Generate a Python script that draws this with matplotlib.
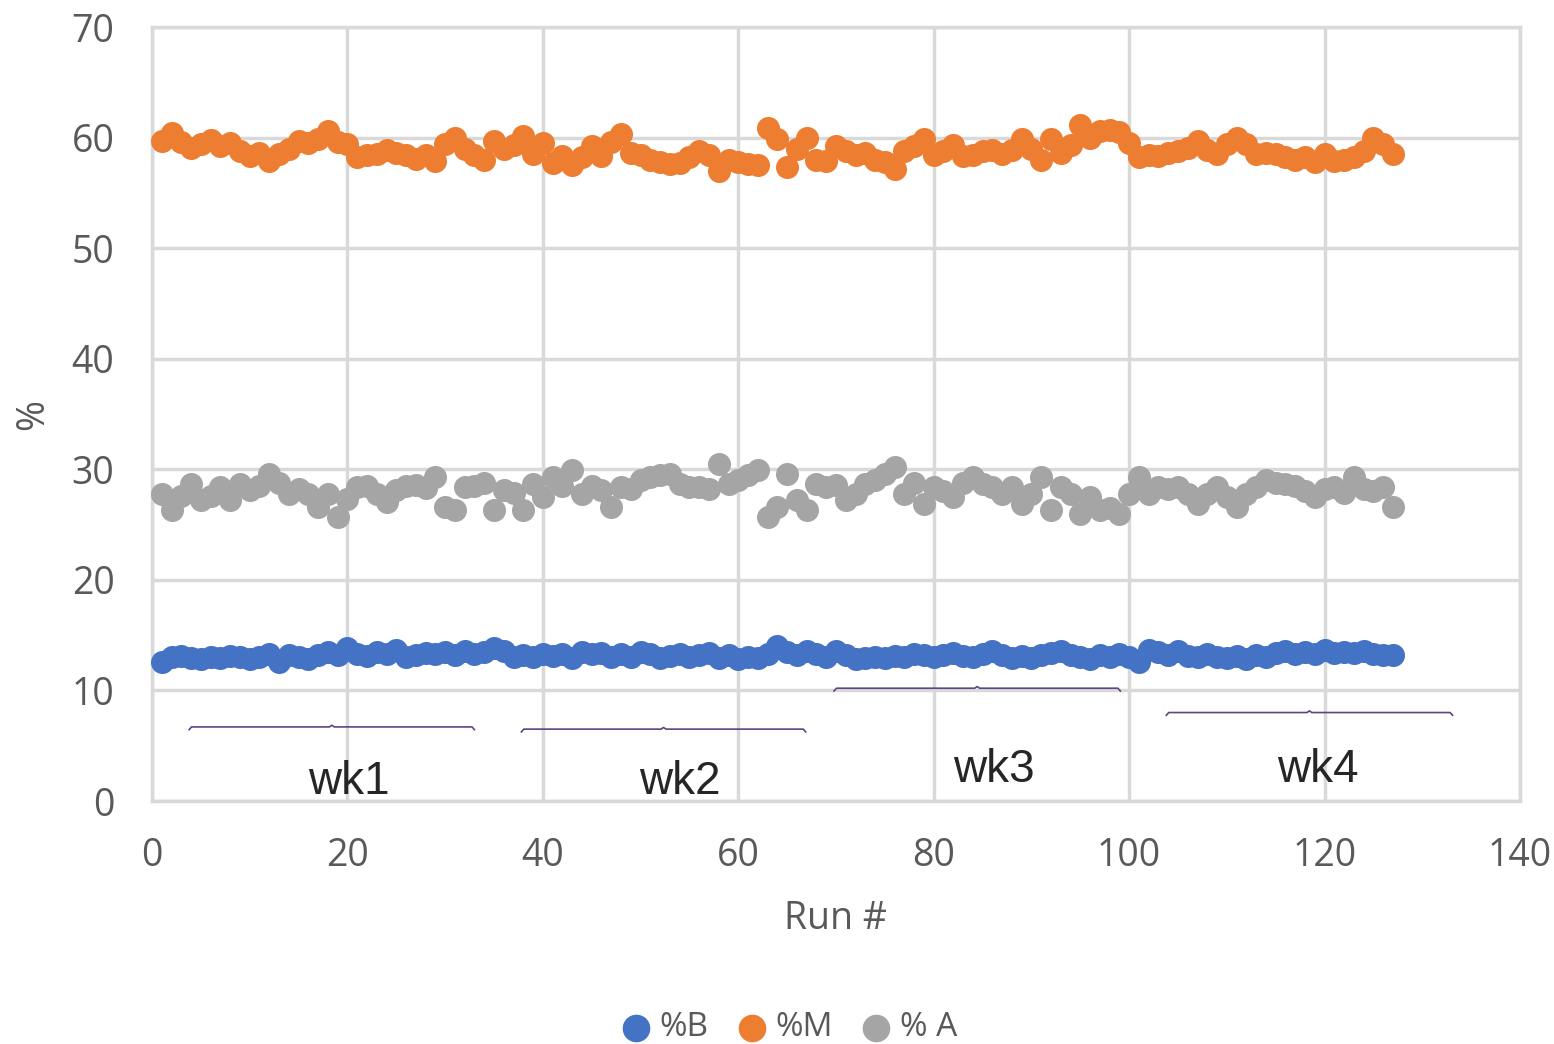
import matplotlib
matplotlib.use("Agg")
import matplotlib.pyplot as plt
import numpy as np

plt.rcParams['font.family'] = ['Open Sans', 'DejaVu Sans']

runs = list(range(1, 128))

pct_B = [12.6, 13.0, 13.1, 12.9, 12.8, 13.0, 12.9, 13.1, 13.0, 12.8,
         13.0, 13.3, 12.6, 13.2, 13.0, 12.8, 13.2, 13.5, 13.2, 13.8,
         13.3, 13.1, 13.5, 13.3, 13.7, 13.0, 13.2, 13.4, 13.3, 13.5,
         13.2, 13.6, 13.3, 13.5, 13.8, 13.6, 13.0, 13.2, 13.0, 13.3,
         13.1, 13.3, 12.9, 13.5, 13.3, 13.4, 13.0, 13.3, 13.0, 13.5,
         13.3, 12.9, 13.1, 13.3, 13.0, 13.2, 13.4, 12.9, 13.2, 12.8,
         13.0, 12.9, 13.3, 14.0, 13.5, 13.2, 13.6, 13.3, 13.0, 13.6,
         13.2, 12.8, 12.9, 13.0, 12.9, 13.1, 13.0, 13.3, 13.2, 13.0,
         13.2, 13.4, 13.1, 13.0, 13.3, 13.6, 13.2, 12.9, 13.1, 12.9,
         13.2, 13.4, 13.6, 13.2, 13.0, 12.8, 13.2, 13.0, 13.3, 13.0,
         12.6, 13.7, 13.5, 13.2, 13.6, 13.1, 13.0, 13.3, 13.0, 12.9,
         13.1, 12.8, 13.2, 13.0, 13.4, 13.6, 13.3, 13.5, 13.3, 13.7,
         13.4, 13.5, 13.4, 13.6, 13.3, 13.2, 13.2]

pct_M = [59.7, 60.4, 59.6, 59.1, 59.4, 59.8, 59.2, 59.5, 58.8, 58.3,
         58.6, 57.9, 58.5, 59.0, 59.7, 59.5, 59.9, 60.6, 59.6, 59.4,
         58.2, 58.4, 58.5, 58.9, 58.6, 58.4, 58.1, 58.4, 57.9, 59.4,
         60.0, 59.0, 58.4, 58.0, 59.7, 59.0, 59.3, 60.1, 58.5, 59.5,
         57.7, 58.3, 57.5, 58.2, 59.2, 58.3, 59.6, 60.3, 58.6, 58.4,
         58.0, 57.8, 57.6, 57.7, 58.2, 58.8, 58.4, 57.0, 58.0, 57.8,
         57.6, 57.5, 60.9, 59.9, 57.3, 59.0, 60.0, 58.0, 57.9, 59.2,
         58.8, 58.4, 58.6, 58.0, 57.8, 57.2, 58.8, 59.2, 59.9, 58.4,
         58.8, 59.3, 58.3, 58.4, 58.8, 58.9, 58.5, 58.9, 59.9, 59.0,
         58.0, 59.9, 58.6, 59.3, 61.1, 60.0, 60.6, 60.7, 60.5, 59.5,
         58.2, 58.4, 58.3, 58.6, 58.8, 59.1, 59.7, 58.9, 58.5, 59.4,
         60.0, 59.4, 58.5, 58.6, 58.5, 58.2, 58.0, 58.2, 57.8, 58.5,
         57.9, 58.0, 58.2, 58.8, 60.0, 59.4, 58.5]

pct_A = [27.8, 26.3, 27.6, 28.7, 27.2, 27.6, 28.4, 27.2, 28.7, 28.1,
         28.5, 29.6, 28.8, 27.8, 28.2, 27.8, 26.6, 27.8, 25.7, 27.3,
         28.4, 28.5, 27.8, 27.0, 28.1, 28.5, 28.6, 28.3, 29.3, 26.6,
         26.3, 28.4, 28.5, 28.8, 26.3, 28.1, 27.9, 26.3, 28.7, 27.5,
         29.3, 28.5, 29.9, 27.8, 28.5, 28.1, 26.6, 28.4, 28.2, 29.0,
         29.3, 29.5, 29.6, 28.7, 28.4, 28.4, 28.2, 30.5, 28.7, 29.0,
         29.5, 29.9, 25.7, 26.6, 29.6, 27.2, 26.3, 28.7, 28.4, 28.6,
         27.2, 27.8, 28.7, 29.0, 29.6, 30.2, 27.8, 28.8, 26.9, 28.4,
         28.0, 27.5, 28.8, 29.3, 28.7, 28.4, 27.8, 28.4, 26.9, 27.8,
         29.3, 26.3, 28.4, 27.8, 26.0, 27.5, 26.3, 26.5, 26.0, 27.8,
         29.3, 27.8, 28.4, 28.2, 28.4, 27.8, 26.9, 27.8, 28.4, 27.5,
         26.6, 27.8, 28.4, 29.0, 28.8, 28.7, 28.5, 28.0, 27.5, 28.2,
         28.4, 27.9, 29.3, 28.2, 28.0, 28.4, 26.6]

series_names = ['%B', '%M', '% A']
series_colors = ['#4472C4', '#ED7D31', '#A5A5A5']

week_labels = ['wk1', 'wk2', 'wk3', 'wk4']
week_start = [3.8, 37.8, 69.8, 103.8]
week_end = [33.0, 66.9, 99.1, 133.1]
week_bracket_y = [6.7, 6.5, 10.2, 8.0]
week_label_x = [20.1, 54.0, 86.2, 119.3]
week_label_y = [1.7, 1.7, 2.8, 2.8]

x_ticks = [0, 20, 40, 60, 80, 100, 120, 140]
y_ticks = [0, 10, 20, 30, 40, 50, 60, 70]

W, H = 1554, 1044
fig = plt.figure(figsize=(W / 100, H / 100), dpi=100)
ax = fig.add_axes([152 / W, 1 - 801 / H, 1368 / W, 774 / H])

grid_c = '#D9D9D9'
for name, vals, col in zip(series_names, [pct_B, pct_M, pct_A], series_colors):
    ax.scatter(runs, vals, s=275, color=col, label=name, zorder=3,
               linewidths=0, clip_on=False)

ax.set_xlim(0, 140)
ax.set_ylim(0, 70)
ax.set_xticks(x_ticks)
ax.set_yticks(y_ticks)
ax.grid(True, color=grid_c, linewidth=2.5, zorder=0)
ax.set_axisbelow(True)
for sp in ax.spines.values():
    sp.set_color(grid_c)
    sp.set_linewidth(2.5)
ax.tick_params(length=0, labelsize=27, labelcolor='#595959')
ax.tick_params(axis='x', pad=26)
ax.tick_params(axis='y', pad=27)

ax.set_xlabel('Run #', fontsize=27, color='#595959', labelpad=18)
ax.set_ylabel('%', fontsize=27, color='#595959', labelpad=14)

# week brackets
bc = '#5E4480'
for xs, xe, yb in zip(week_start, week_end, week_bracket_y):
    mid = (xs + xe) / 2
    ax.plot([xs, xs + 0.25, mid - 0.25, mid, mid + 0.25, xe - 0.25, xe],
            [yb - 0.25, yb, yb, yb + 0.15, yb, yb, yb - 0.25],
            color=bc, linewidth=1.2, zorder=4)
for lbl, lx, ly in zip(week_labels, week_label_x, week_label_y):
    ax.text(lx, ly, lbl, ha='center', va='center', fontsize=33,
            color='#262626', family=['Liberation Sans', 'DejaVu Sans'], zorder=5)

fig.legend(loc='center', bbox_to_anchor=(780 / W, 1 - 1028 / H), ncol=3,
           frameon=False, fontsize=24, labelcolor='#595959',
           handletextpad=-0.3, columnspacing=0.3, markerscale=1.2,
           borderaxespad=0)

fig.savefig('out.png', dpi=100)
